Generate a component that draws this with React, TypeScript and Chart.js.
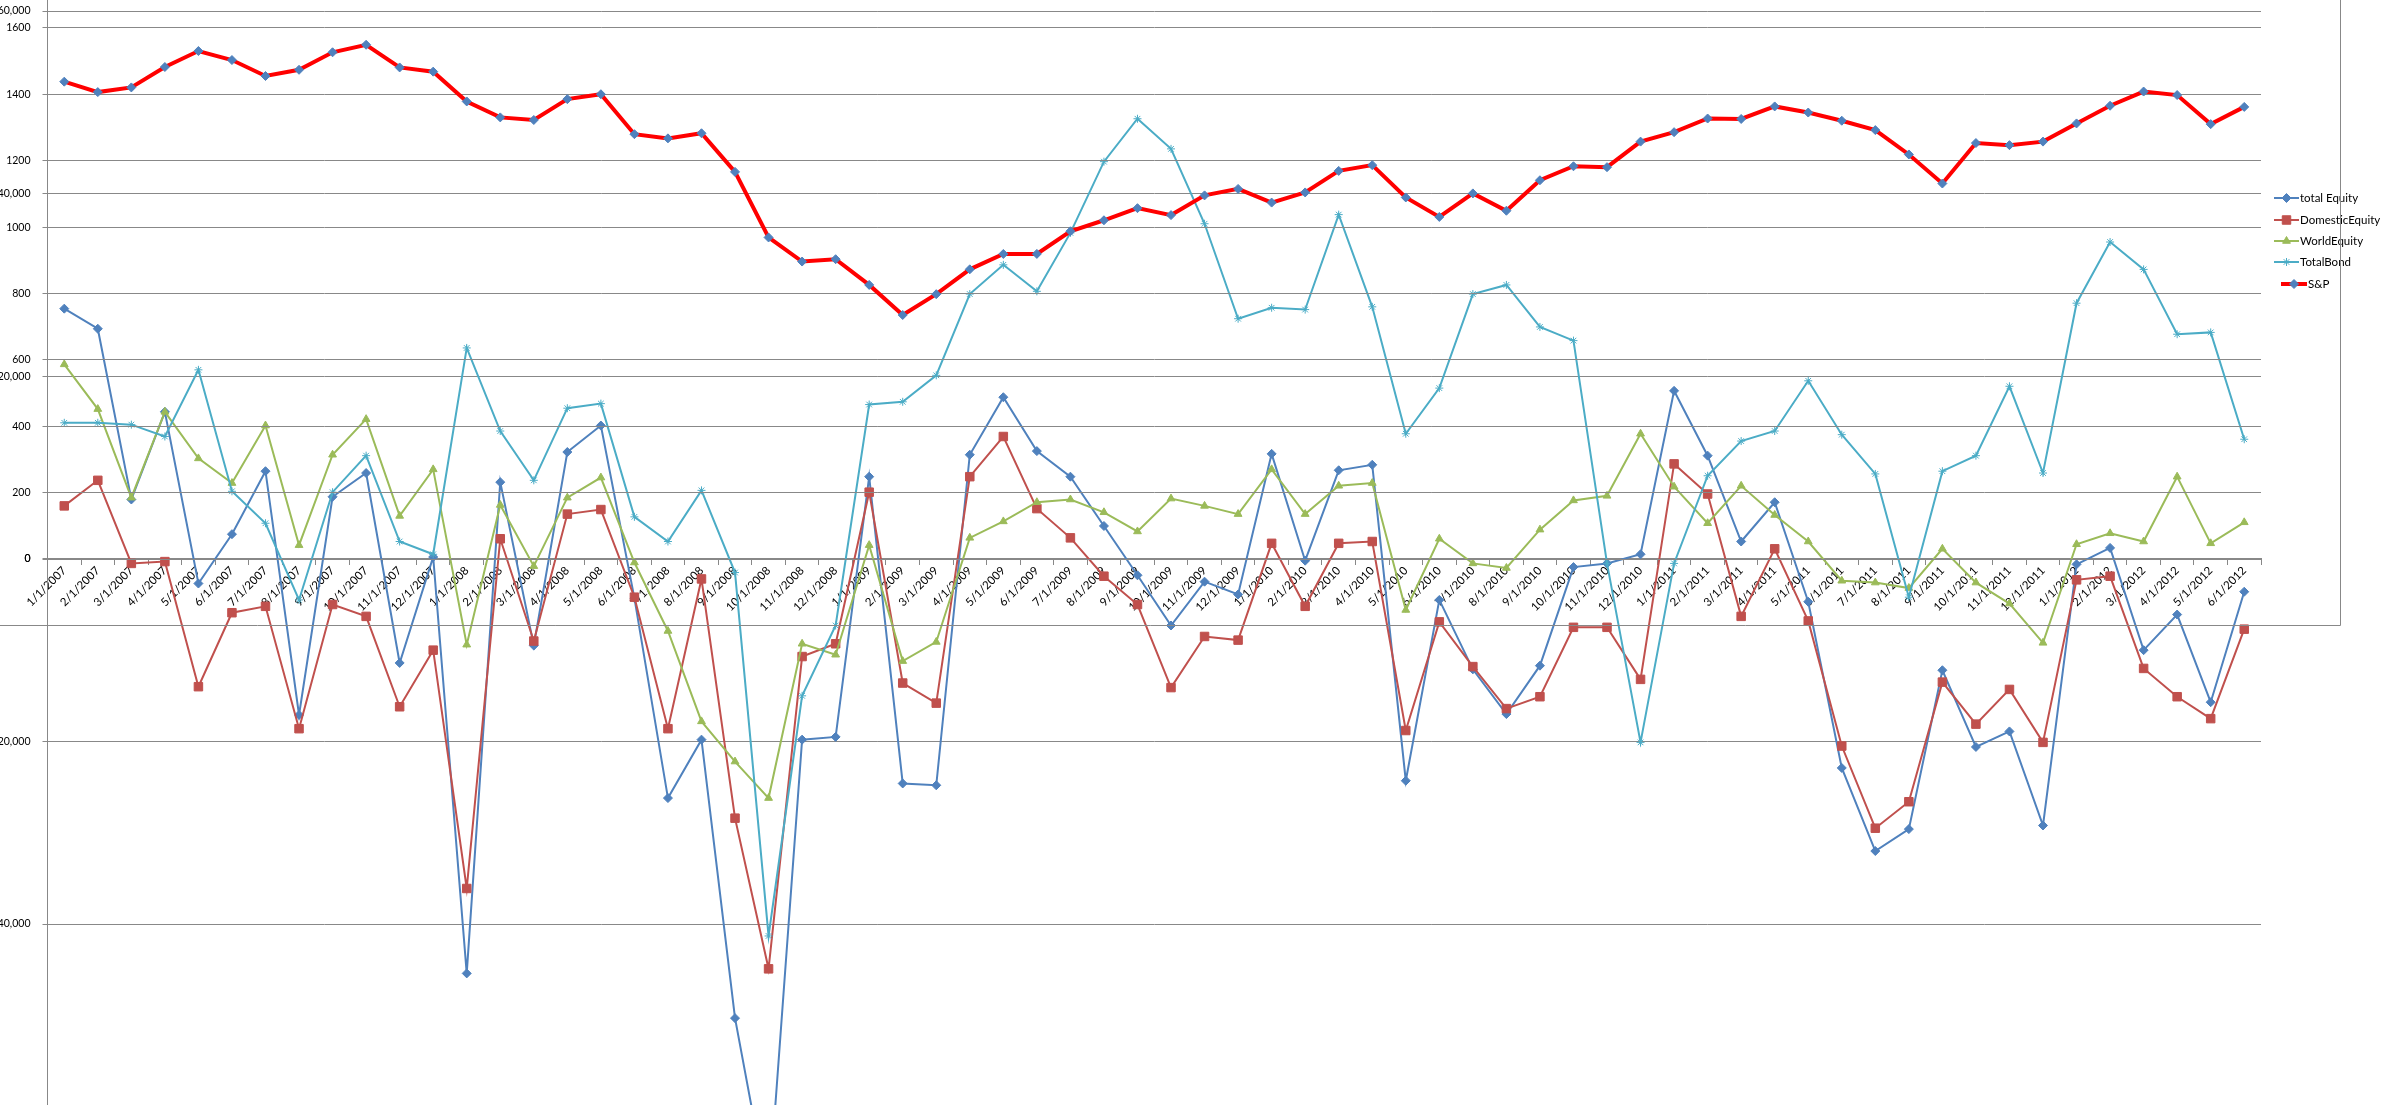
import React, { useEffect, useRef } from 'react';
import { Chart, registerables } from 'chart.js';
import { drawPoint } from 'chart.js/helpers';

Chart.register(...registerables);

// ---------- data ----------
const dates = [
  '1/1/2007', '2/1/2007', '3/1/2007', '4/1/2007', '5/1/2007', '6/1/2007', '7/1/2007', '8/1/2007', '9/1/2007', '10/1/2007', '11/1/2007', '12/1/2007',
  '1/1/2008', '2/1/2008', '3/1/2008', '4/1/2008', '5/1/2008', '6/1/2008', '7/1/2008', '8/1/2008', '9/1/2008', '10/1/2008', '11/1/2008', '12/1/2008',
  '1/1/2009', '2/1/2009', '3/1/2009', '4/1/2009', '5/1/2009', '6/1/2009', '7/1/2009', '8/1/2009', '9/1/2009', '10/1/2009', '11/1/2009', '12/1/2009',
  '1/1/2010', '2/1/2010', '3/1/2010', '4/1/2010', '5/1/2010', '6/1/2010', '7/1/2010', '8/1/2010', '9/1/2010', '10/1/2010', '11/1/2010', '12/1/2010',
  '1/1/2011', '2/1/2011', '3/1/2011', '4/1/2011', '5/1/2011', '6/1/2011', '7/1/2011', '8/1/2011', '9/1/2011', '10/1/2011', '11/1/2011', '12/1/2011',
  '1/1/2012', '2/1/2012', '3/1/2012', '4/1/2012', '5/1/2012', '6/1/2012',
];

const totalEquity = [
  27400, 25200, 6500, 16100, -2700, 2700, 9600, -17100, 6800, 9400, -11400, 200,
  -45400, 8400, -9500, 11700, 14600, -4300, -26200, -19800, -50300, -70000, -19800, -19500,
  9000, -24600, -24800, 11400, 17700, 11800, 9000, 3600, -1800, -7300, -2500, -3900,
  11500, -200, 9700, 10300, -24300, -4500, -12100, -17000, -11700, -900, -500, 500,
  18400, 11300, 1900, 6200, -4700, -22900, -32000, -29600, -12200, -20600, -18900, -29200,
  -600, 1200, -10000, -6100, -15700, -3600,
];

const domesticEquity = [
  5800, 8600, -500, -300, -14000, -5900, -5200, -18600, -5000, -6300, -16200, -10000,
  -36100, 2200, -9000, 4900, 5400, -4200, -18600, -2200, -28400, -44900, -10700, -9300,
  7300, -13600, -15800, 9000, 13400, 5500, 2300, -1900, -5000, -14100, -8500, -8900,
  1700, -5200, 1700, 1900, -18800, -6900, -11800, -16400, -15100, -7500, -7500, -13200,
  10400, 7100, -6300, 1100, -6800, -20500, -29500, -26600, -13500, -18100, -14300, -20100,
  -2300, -1900, -12000, -15100, -17500, -7700,
];

const worldEquity = [
  21300, 16400, 6700, 16100, 11000, 8300, 14600, 1500, 11400, 15300, 4700, 9800,
  -9400, 5900, -800, 6700, 8900, -400, -7900, -17800, -22200, -26200, -9300, -10500,
  1500, -11200, -9100, 2300, 4100, 6200, 6500, 5100, 3000, 6600, 5800, 4900,
  9800, 4900, 8000, 8300, -5600, 2200, -500, -1000, 3200, 6400, 6900, 13700,
  7900, 3900, 8000, 4800, 1900, -2400, -2600, -3200, 1100, -2600, -4900, -9200,
  1600, 2800, 1900, 9000, 1700, 4000,
];

const totalBond = [
  14900, 14900, 14700, 13400, 20700, 7400, 3900, -4500, 7300, 11300, 1900, 500,
  23100, 14000, 8600, 16500, 17000, 4600, 1900, 7500, -1500, -41300, -15000, -7300,
  16900, 17200, 20100, 29000, 32200, 29300, 35700, 43500, 48200, 44900, 36700, 26300,
  27500, 27300, 37700, 27600, 13700, 18700, 29000, 30000, 25400, 23900, -500, -20100,
  -500, 9100, 12900, 14000, 19500, 13600, 9300, -4200, 9600, 11300, 18900, 9400,
  28000, 34700, 31700, 24600, 24800, 13100,
];

const sp500 = [
  1438.2, 1406.8, 1420.9, 1482.4, 1530.6, 1503.4, 1455.3, 1474.0, 1526.8, 1549.4, 1481.1, 1468.4,
  1378.6, 1330.6, 1322.7, 1385.6, 1400.4, 1280.0, 1267.4, 1282.8, 1166.4, 968.8, 896.2, 903.3,
  825.9, 735.1, 797.9, 872.8, 919.1, 919.3, 987.5, 1020.6, 1057.1, 1036.2, 1095.6, 1115.1,
  1073.9, 1104.5, 1169.4, 1186.7, 1089.4, 1030.7, 1101.6, 1049.3, 1141.2, 1183.3, 1180.6, 1257.6,
  1286.1, 1327.2, 1325.8, 1363.6, 1345.2, 1320.6, 1292.3, 1218.9, 1131.4, 1253.3, 1247.0, 1257.6,
  1312.4, 1365.7, 1408.5, 1397.9, 1310.3, 1362.2,
];

const flowTicks = [60000, 40000, 20000, 0, -20000, -40000];
const spTicks = [1600, 1400, 1200, 1000, 800, 600, 400, 200, 0];

const seriesNames = ['total Equity', 'DomesticEquity', 'WorldEquity', 'TotalBond', 'S&P'];

// ---------- styles ----------
const BLUE = '#4F81BD';
const RED = '#C0504D';
const GREEN = '#9BBB59';
const CYAN = '#4BACC6';
const SP_RED = '#FF0000';
const GRID = '#888888';
const FONT = 'Lato, "Open Sans", sans-serif';

const W = 2381;
const H = 1105;
const SHIFT_X = 40; // canvases start 40px left of the page (labels cut like the reference)
const A_TOP = -20; // page y of canvas A
const A_H = 1145;
const B_TOP = -100; // page y of canvas B
const B_H = 726;

const fmt = (v: any) => Number(v).toLocaleString('en-US');

// legend drawn on the flow chart canvas (page coordinates converted)
const legendPlugin = {
  id: 'excelLegend',
  afterDraw(chart: any) {
    const ctx = chart.ctx;
    const ox = SHIFT_X;
    const oy = -A_TOP;
    const items = [
      { name: seriesNames[0], color: BLUE, mColor: BLUE, style: 'rectRot', r: 4.5, lw: 2, x0: 2274, x1: 2299, ty: 198 },
      { name: seriesNames[1], color: RED, mColor: RED, style: 'rect', r: 6, lw: 2, x0: 2274, x1: 2299, ty: 220 },
      { name: seriesNames[2], color: GREEN, mColor: GREEN, style: 'triangle', r: 4.5, lw: 2, x0: 2274, x1: 2299, ty: 241 },
      { name: seriesNames[3], color: CYAN, mColor: CYAN, style: 'star', r: 4, lw: 2, x0: 2274, x1: 2299, ty: 262 },
      { name: seriesNames[4], color: SP_RED, mColor: BLUE, style: 'rectRot', r: 4.5, lw: 4, x0: 2281, x1: 2307, ty: 284 },
    ];
    ctx.save();
    for (const it of items) {
      const y = it.ty + oy;
      ctx.strokeStyle = it.color;
      ctx.lineWidth = it.lw;
      ctx.beginPath();
      ctx.moveTo(it.x0 + ox, y);
      ctx.lineTo(it.x1 + ox, y);
      ctx.stroke();
      ctx.fillStyle = it.mColor;
      ctx.strokeStyle = it.mColor;
      ctx.lineWidth = 1;
      drawPoint(ctx, { pointStyle: it.style, radius: it.r, rotation: 0, borderWidth: 1 } as any, (it.x0 + it.x1) / 2 + ox, y);
      ctx.fillStyle = '#000';
      ctx.font = `11.5px ${FONT}`;
      ctx.textBaseline = 'middle';
      ctx.textAlign = 'left';
      ctx.fillText(it.name, it.x1 + 1 + ox, y + 0.5);
    }
    ctx.restore();
  },
};

// outer border of the S&P chart object (bottom and right edges)
const borderPlugin = {
  id: 'outerBorder',
  afterDraw(chart: any) {
    const ctx = chart.ctx;
    ctx.save();
    ctx.strokeStyle = GRID;
    ctx.lineWidth = 1;
    ctx.beginPath();
    ctx.moveTo(0, chart.height - 0.5);
    ctx.lineTo(chart.width - 0.5, chart.height - 0.5);
    ctx.lineTo(chart.width - 0.5, 0);
    ctx.stroke();
    ctx.restore();
  },
};

export default function App() {
  const refA = useRef<HTMLCanvasElement>(null);
  const refB = useRef<HTMLCanvasElement>(null);

  useEffect(() => {
    const tickFont = { family: FONT, size: 10.5 };
    const mk = (label: string, data: number[], color: string, style: string, r: number, order: number) => ({
      label,
      data,
      borderColor: color,
      backgroundColor: color,
      pointBackgroundColor: color,
      pointBorderColor: color,
      pointStyle: style,
      pointRadius: r,
      pointBorderWidth: 1,
      borderWidth: 2,
      tension: 0,
      clip: false,
      order,
    });

    const chartA = new Chart(refA.current!, {
      type: 'line',
      data: {
        labels: dates,
        datasets: [
          mk(seriesNames[0], totalEquity, BLUE, 'rectRot', 4.5, 4),
          mk(seriesNames[1], domesticEquity, RED, 'rect', 6, 3),
          mk(seriesNames[2], worldEquity, GREEN, 'triangle', 4.5, 2),
          mk(seriesNames[3], totalBond, CYAN, 'star', 4, 1),
        ] as any,
      },
      options: {
        animation: false,
        responsive: false,
        maintainAspectRatio: false,
        layout: { padding: { left: 0, right: (W + SHIFT_X) - (2261 + SHIFT_X), top: 11 - A_TOP, bottom: (A_TOP + A_H) - 1107 } },
        plugins: { legend: { display: false }, tooltip: { enabled: false } },
        scales: {
          x: {
            type: 'category',
            offset: true,
            position: { y: 0 } as any,
            grid: { offset: true, drawOnChartArea: false, drawTicks: true, tickLength: 5, color: GRID },
            border: { color: GRID, width: 2 },
            ticks: {
              autoSkip: false,
              minRotation: 45,
              maxRotation: 45,
              padding: 0,
              color: '#000',
              font: { family: FONT, size: 11.5 },
            },
          },
          y: {
            min: -60000,
            max: 60000,
            afterBuildTicks: (s: any) => { s.ticks = flowTicks.map((v) => ({ value: v })); },
            afterFit: (s: any) => { s.width = 47.5 + SHIFT_X; },
            grid: { color: GRID, tickLength: 5 },
            border: { color: GRID },
            ticks: { color: '#000', font: tickFont, padding: 12, callback: fmt },
          },
        },
      } as any,
      plugins: [legendPlugin],
    });

    const chartB = new Chart(refB.current!, {
      type: 'line',
      data: {
        labels: dates,
        datasets: [
          {
            label: seriesNames[4],
            data: sp500,
            borderColor: SP_RED,
            backgroundColor: BLUE,
            pointBackgroundColor: BLUE,
            pointBorderColor: BLUE,
            pointStyle: 'rectRot',
            pointRadius: 4.5,
            pointBorderWidth: 1,
            borderWidth: 4,
            tension: 0,
          },
        ] as any,
      },
      options: {
        animation: false,
        responsive: false,
        maintainAspectRatio: false,
        layout: { padding: { left: 0, right: 2341 - 2261, top: -38.4 - B_TOP, bottom: (B_TOP + B_H) - 559 } },
        plugins: { legend: { display: false }, tooltip: { enabled: false } },
        scales: {
          x: { type: 'category', offset: true, display: false },
          y: {
            min: 0,
            max: 1800,
            afterBuildTicks: (s: any) => { s.ticks = spTicks.map((v) => ({ value: v })); },
            afterFit: (s: any) => { s.width = 47.5 + SHIFT_X; },
            grid: { color: GRID, tickLength: 5 },
            border: { color: GRID },
            ticks: { color: '#000', font: tickFont, padding: 12, callback: (v: any) => String(v) },
          },
        },
      } as any,
      plugins: [borderPlugin],
    });

    return () => {
      chartA.destroy();
      chartB.destroy();
    };
  }, []);

  return (
    <div style={{ position: 'absolute', left: 0, top: 0, width: W, height: H, overflow: 'hidden', background: '#fff' }}>
      <canvas ref={refA} width={W + SHIFT_X} height={A_H} style={{ position: 'absolute', left: -SHIFT_X, top: A_TOP, width: W + SHIFT_X, height: A_H }} />
      <canvas ref={refB} width={2341 + SHIFT_X} height={B_H} style={{ position: 'absolute', left: -SHIFT_X, top: B_TOP, width: 2341 + SHIFT_X, height: B_H }} />
    </div>
  );
}
